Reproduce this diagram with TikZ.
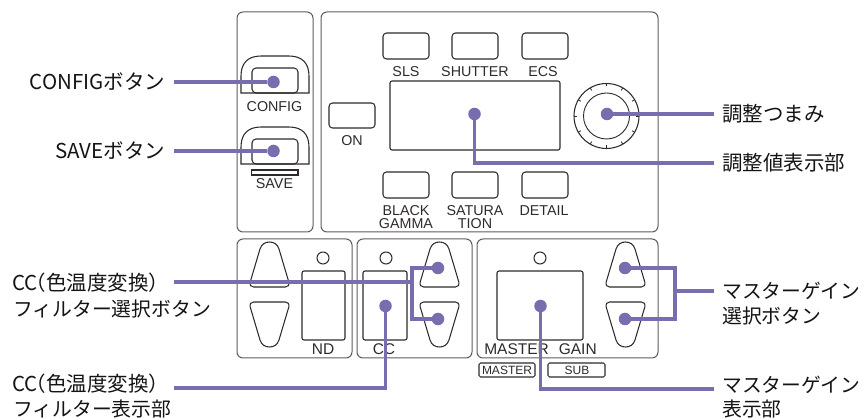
\documentclass[tikz,border=0pt]{standalone}
\usepackage{fontspec}
\setmainfont{Noto Sans CJK JP}
\newfontfamily\panelfont{Liberation Sans}
\definecolor{callout}{HTML}{7A6DAF}
\definecolor{outline}{HTML}{2E2A29}
\definecolor{panelline}{HTML}{5F5A5A}
\tikzset{
  panelbox/.style={draw=panelline,line width=1pt,rounded corners=6pt},
  partline/.style={draw=outline,line width=1.05pt},
  btn/.style={partline,rounded corners=3.5pt},
  lamp/.style={partline,circle,inner sep=0pt,minimum size=12pt},
  hit/.style={circle,fill=callout,inner sep=0pt,minimum size=12.5pt},
  lead/.style={draw=callout,line width=3.6pt},
  callt/.style={font=\fontsize{20.5}{20.5}\selectfont,text=black!92,inner sep=0pt},
  callk/.style={font=\fontsize{19.8}{19.8}\selectfont,text=black!92,inner sep=0pt},
  plabel/.style={font=\panelfont\fontsize{14.3}{14.3}\selectfont,text=outline,inner sep=0pt},
  plabelb/.style={font=\panelfont\fontsize{15.5}{15.5}\selectfont,text=outline,inner sep=0pt},
  plabels/.style={font=\panelfont\fontsize{12}{12}\selectfont,text=outline,inner sep=0pt},
}
% up-pointing selector button: centre x, top y, vertical direction
\newcommand{\selbtn}[3]{\draw[partline,shift={(#1,#2)},yscale=#3]
  (-19.3,40) -- (-9.5,7) .. controls (-8,2) and (-4,0) .. (0,0)
  .. controls (4,0) and (8,2) .. (9.5,7) -- (19.3,40)
  .. controls (20,43) and (18.5,45) .. (16,45) -- (-16,45)
  .. controls (-18.5,45) and (-20,43) .. (-19.3,40) -- cycle;}
% arched guard with inner key: top y
\newcommand{\archbtn}[1]{
  \draw[partline,shift={(0,#1)}] (241,37) -- (241,20) .. controls (241,7) and (248,0) .. (261,0)
    -- (289,0) .. controls (302,0) and (309,7) .. (309,20) -- (309,37) -- cycle;
  \draw[partline,rounded corners=4pt,shift={(0,#1)}] (252,37) -- (252,12) -- (298,12) -- (298,37) -- cycle;}
\newcommand{\ccparen}{CC\hspace{-12pt}（色温度変換）}
\begin{document}
\begin{tikzpicture}[x=1pt,y=-1pt]
\useasboundingbox (0,0) rectangle (863,419);
% panels
\draw[panelbox] (237,12) rectangle (313,232);
\draw[panelbox] (321,12) rectangle (658,232);
\draw[panelbox] (237,239) rectangle (352,358);
\draw[panelbox] (357,239) rectangle (472,358);
\draw[panelbox] (477,239) rectangle (658,358);
% config / save
\archbtn{56}
\archbtn{127}
\draw[partline] (251.5,170) rectangle (298,175);
\node[plabel] (tconfig) at (274.5,107) {CONFIG};
\node[plabel] (tsave) at (274.5,184) {SAVE};
% upper keys
\draw[btn] (383,33) rectangle (429,59);
\draw[btn] (452,33) rectangle (498,59);
\draw[btn] (522,33) rectangle (568,59);
\node[plabel] (tsls) at (406,72) {SLS};
\node[plabel] (tshutter) at (475,72) {SHUTTER};
\node[plabel] (tecs) at (543,72) {ECS};
\draw[btn] (329,103) rectangle (375,128);
\node[plabel] (ton) at (352,141) {ON};
\draw[btn,rounded corners=2pt] (390,81) rectangle (560,150);
\draw[btn] (383,172) rectangle (429,198);
\draw[btn] (452,172) rectangle (498,198);
\draw[btn] (522,172) rectangle (568,198);
\node[plabel] (tblack) at (406,211) {BLACK};
\node[plabel] (tgamma) at (406,224) {GAMMA};
\node[plabel] (tsatura) at (475,211) {SATURA};
\node[plabel] (ttion) at (475,224) {TION};
\node[plabel] (tdetail) at (544,211) {DETAIL};
% knob
\draw[partline] (606.5,116) circle (32.5);
\draw[partline,line width=0.9pt] (606.5,116) circle (23);
\foreach \a in {0,30,...,330}
  \draw[partline,line width=0.8pt] (606.5,116) ++(\a:32.5) -- ++(\a+180:3);
% ND
\selbtn{269.5}{242}{1}
\selbtn{269.5}{347}{-1}
\node[lamp] (lnd) at (323,258) {};
\draw[btn,rounded corners=2pt] (302,271) rectangle (345,340);
\node[plabelb] (tnd) at (323,349) {ND};
% CC
\node[lamp] (lcc) at (386,258) {};
\draw[btn,rounded corners=2pt] (363,271) rectangle (407,340);
\node[plabelb] (tcc) at (384,349) {CC};
\selbtn{439.5}{242}{1}
\selbtn{439.5}{347}{-1}
% master
\node[lamp] (lm) at (540,258) {};
\draw[btn,rounded corners=2pt] (497,271) rectangle (583,340);
\node[plabelb] (tmg) at (540.5,349) {MASTER\hspace{10pt}GAIN};
\selbtn{625.5}{242}{1}
\selbtn{625.5}{347}{-1}
\draw[btn,rounded corners=1.5pt] (479,363) rectangle (535,377);
\node[plabels] (tm) at (507,370.5) {MASTER};
\draw[btn,rounded corners=1.5pt] (548,363) rectangle (605,377);
\node[plabels] (ts) at (577,370.5) {SUB};
% callout texts
\node[callt,anchor=east] (cconfig) at (165.5,82) {CONFIGボタン};
\node[callt,anchor=east] (csave) at (165.5,151) {SAVEボタン};
\node[callt,anchor=west] (cknob) at (722,114) {調整つまみ};
\node[callt,anchor=west] (cval) at (722,163) {調整値表示部};
\node[callt,anchor=west] (csel1) at (12,283) {\ccparen};
\node[callk,anchor=west] (csel2) at (13,309) {フィルター選択ボタン};
\node[callt,anchor=west] (cdis1) at (12,384) {\ccparen};
\node[callk,anchor=west] (cdis2) at (13,408.5) {フィルター表示部};
\node[callk,anchor=west] (cgain1) at (722,291) {マスターゲイン};
\node[callk,anchor=west] (cgain2) at (722,316) {選択ボタン};
\node[callk,anchor=west] (cgd1) at (722,385) {マスターゲイン};
\node[callk,anchor=west] (cgd2) at (722,408.5) {表示部};
% callout points
\node[hit] (pconfig) at (273.5,82) {};
\node[hit] (psave) at (273.5,151) {};
\node[hit] (pval) at (474.5,114) {};
\node[hit] (pknob) at (607,114) {};
\node[hit] (pccup) at (438,268) {};
\node[hit] (pccdn) at (438,319) {};
\node[hit] (pccd) at (385.5,306) {};
\node[hit] (pmup) at (625,268) {};
\node[hit] (pmdn) at (625,319) {};
\node[hit] (pmd) at (540.5,306) {};
% free ends
\coordinate (econfig) at (174,82);
\coordinate (esave) at (174,151);
\coordinate (eknob) at (714,114);
\coordinate (eval) at (714,163);
\coordinate (esel) at (174,282);
\coordinate (jsel) at (412,282);
\coordinate (edis) at (174,388);
\coordinate (egain) at (714,291);
\coordinate (jgain) at (675,291);
\coordinate (egd) at (714,389);
% connectors
\draw[lead] (econfig) -- (pconfig);
\draw[lead] (esave) -- (psave);
\draw[lead] (pknob) -- (eknob);
\draw[lead] (pval) |- (eval);
\draw[lead] (esel) -- (jsel);
\draw[lead] (pccup) -| (jsel) |- (pccdn);
\draw[lead] (pccd) |- (edis);
\draw[lead] (pmup) -| (jgain) |- (pmdn);
\draw[lead] (jgain) -- (egain);
\draw[lead] (pmd) |- (egd);
\end{tikzpicture}
\end{document}
